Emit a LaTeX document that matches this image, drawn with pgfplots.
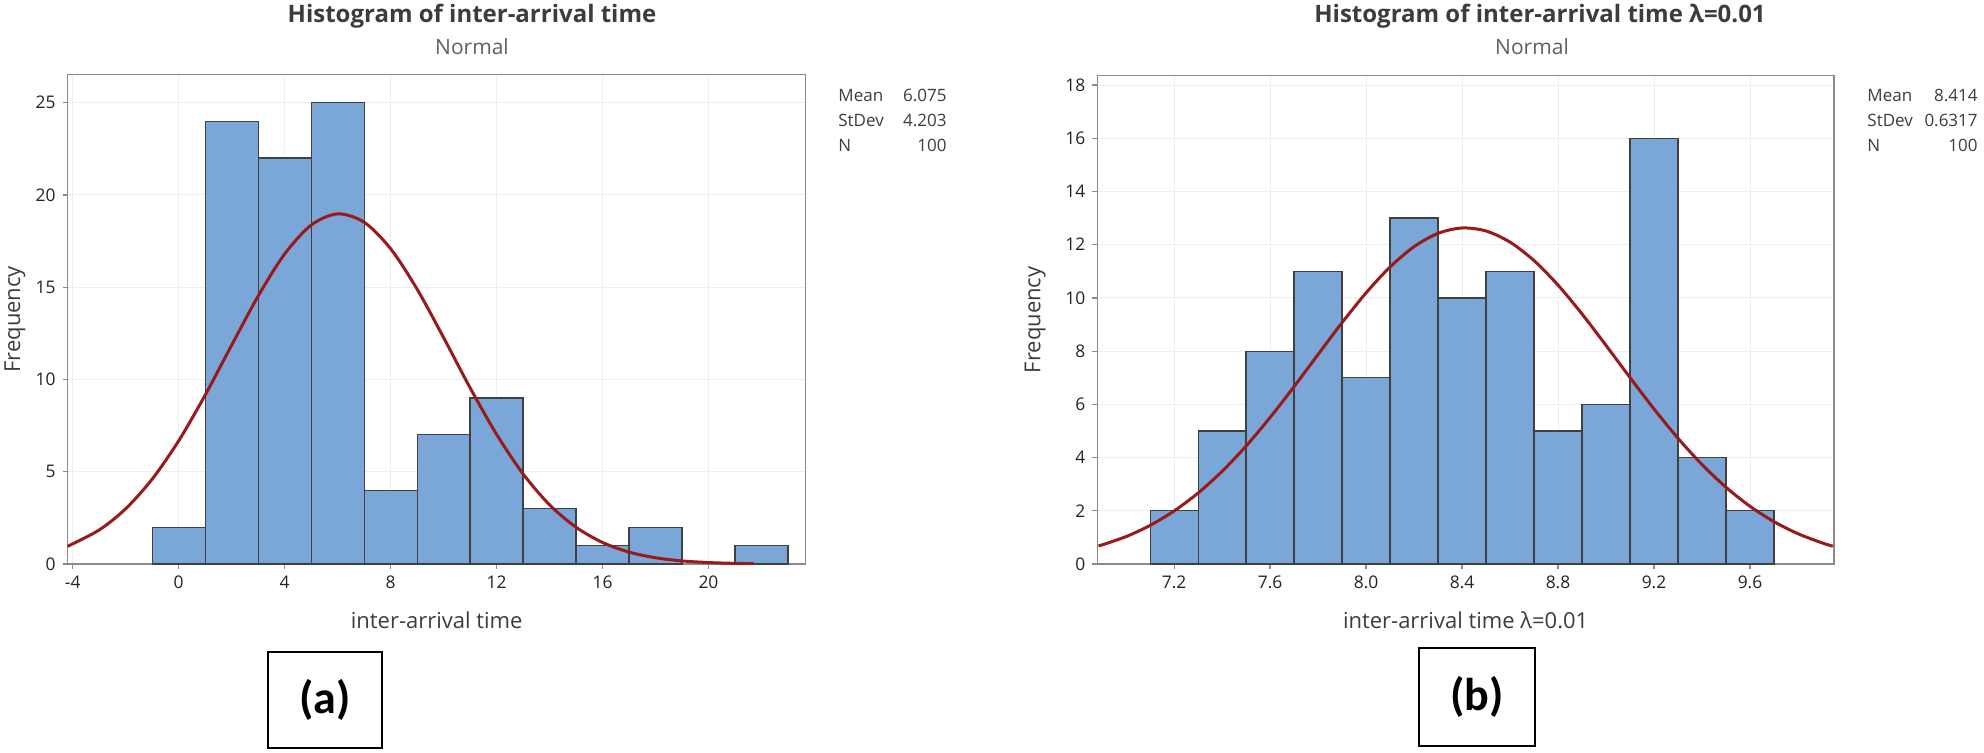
\documentclass[border=0pt]{standalone}
\usepackage{pgfplots}
\pgfplotsset{compat=1.18}
\usepackage{fontspec}
\setmainfont{Open Sans}
\newfontfamily\carlito{Carlito}
\definecolor{barblue}{RGB}{123,166,216}
\definecolor{baredge}{RGB}{64,64,64}
\definecolor{curvered}{RGB}{152,26,26}
\definecolor{framegray}{RGB}{138,138,138}
\definecolor{gridgray}{RGB}{238,238,238}
\definecolor{titlecol}{RGB}{60,60,60}
\definecolor{subcol}{RGB}{95,95,95}
\definecolor{tickcol}{RGB}{35,35,35}
\definecolor{labcol}{RGB}{60,60,60}
\pgfplotsset{
  histo/.style={
    scale only axis,
    axis line style={draw=framegray, line width=0.75pt},
    tick style={draw=framegray, line width=0.6pt},
    major tick length=2.5pt,
    tick align=outside,
    xtick pos=lower, ytick pos=lower,
    grid=major,
    major grid style={draw=gridgray, line width=0.5pt},
    tick label style={font=\fontsize{8.7}{10}\selectfont, text=tickcol},
    label style={font=\fontsize{11}{13}\selectfont, text=labcol},
    /pgf/number format/assume math mode=true,
    ymin=0,
  },
  bars/.style={ybar interval, fill=barblue, draw=baredge, line width=0.6pt},
  fitcurve/.style={curvered, line width=1.5pt, smooth, no marks},
}
\begin{document}
\begin{tikzpicture}
\useasboundingbox (0,0) rectangle (992pt,376pt);
% ---------------- (a) ----------------
\begin{axis}[histo,
  at={(33.85pt,94pt)}, anchor=south west,
  width=369pt, height=244.65pt,
  xmin=-4.19, xmax=23.67, ymax=26.52,
  xtick={-4,0,4,8,12,16,20}, ytick={0,5,10,15,20,25},
  xlabel={inter-arrival time},
  ylabel={Frequency},
  xlabel style={at={(axis description cs:0.5,-0.115)}, anchor=center},
  ylabel style={at={(axis description cs:-0.0714,0.5)}, anchor=center},
]
\addplot[bars] coordinates {(-1,2) (1,24) (3,22) (5,25) (7,4) (9,7) (11,9) (13,3) (15,1) (17,2) (19,2)};
\addplot[bars] coordinates {(21,1) (23,1)};
\addplot[fitcurve] coordinates {
(-4.2,0.957) (-3,1.845) (-2,2.997) (-1,4.603) (0,6.677) (1,9.156) (2,11.863)
(3,14.524) (4,16.803) (5,18.369) (6,18.977) (7,18.526) (8,17.090) (9,14.898)
(10,12.272) (11,9.553) (12,7.027) (13,4.885) (14,3.208) (15,1.991) (16,1.168)
(17,0.647) (18,0.339) (19,0.168) (20,0.079) (21,0.035) (21.7,0.019)};
\end{axis}
% ---------------- (b) ----------------
\begin{axis}[histo,
  at={(548.65pt,94pt)}, anchor=south west,
  width=368.35pt, height=244.15pt,
  xmin=6.88, xmax=9.95, ymax=18.35,
  xtick={7.2,7.6,8.0,8.4,8.8,9.2,9.6}, ytick={0,2,4,6,8,10,12,14,16,18},
  xticklabel style={/pgf/number format/.cd, fixed, fixed zerofill, precision=1},
  xlabel={inter-arrival time λ=0.01},
  ylabel={Frequency},
  xlabel style={at={(axis description cs:0.5,-0.115)}, anchor=center},
  ylabel style={at={(axis description cs:-0.0845,0.5)}, anchor=center},
]
\addplot[bars] coordinates {(7.1,2) (7.3,5) (7.5,8) (7.7,11) (7.9,7) (8.1,13) (8.3,10) (8.5,11) (8.7,5) (8.9,6) (9.1,16) (9.3,4) (9.5,2) (9.7,2)};
\addplot[fitcurve] coordinates {
(6.885,0.675) (7.0,1.031) (7.1,1.452) (7.2,1.993) (7.3,2.668) (7.4,3.483) (7.5,4.435)
(7.6,5.507) (7.7,6.668) (7.8,7.875) (7.9,9.071) (8.0,10.190) (8.1,11.163) (8.2,11.926)
(8.3,12.427) (8.4,12.628) (8.5,12.515) (8.6,12.095) (8.7,11.401) (8.8,10.480) (8.9,9.395)
(9.0,8.214) (9.1,7.004) (9.2,5.825) (9.3,4.724) (9.4,3.736) (9.5,2.882) (9.6,2.168)
(9.7,1.590) (9.8,1.138) (9.9,0.794) (9.945,0.670)};
\end{axis}
% ---------------- titles ----------------
\node[anchor=base, font=\bfseries\fontsize{12}{14}\selectfont, text=titlecol] at (236pt,364.7pt) {Histogram of inter-arrival time};
\node[anchor=base, font=\fontsize{10.5}{12}\selectfont, text=subcol] at (236pt,348.8pt) {Normal};
\node[anchor=base, font=\bfseries\fontsize{12}{14}\selectfont, text=titlecol] at (770pt,364.7pt) {Histogram of inter-arrival time λ=0.01};
\node[anchor=base, font=\fontsize{10.5}{12}\selectfont, text=subcol] at (766pt,348.8pt) {Normal};
% ---------------- stats ----------------
\begin{scope}[every node/.style={font=\fontsize{8.5}{10}\selectfont, text=labcol, inner sep=0pt}]
\node[anchor=base west] at (419pt,325.2pt) {Mean};
\node[anchor=base west] at (419pt,312.7pt) {StDev};
\node[anchor=base west] at (419pt,300.2pt) {N};
\node[anchor=base east] at (473.5pt,325.2pt) {6.075};
\node[anchor=base east] at (473.5pt,312.7pt) {4.203};
\node[anchor=base east] at (473.5pt,300.2pt) {100};
\node[anchor=base west] at (933.5pt,325.2pt) {Mean};
\node[anchor=base west] at (933.5pt,312.7pt) {StDev};
\node[anchor=base west] at (933.5pt,300.2pt) {N};
\node[anchor=base east] at (989pt,325.2pt) {8.414};
\node[anchor=base east] at (989pt,312.7pt) {0.6317};
\node[anchor=base east] at (989pt,300.2pt) {100};
\end{scope}
% ---------------- panel labels ----------------
\node[draw=black, line width=0.9pt, minimum width=57pt, minimum height=48pt, inner sep=0pt, font=\carlito\bfseries\fontsize{23}{26}\selectfont] at (162.5pt,26pt) {(a)};
\node[draw=black, line width=0.9pt, minimum width=58pt, minimum height=49pt, inner sep=0pt, font=\carlito\bfseries\fontsize{23}{26}\selectfont] at (738.5pt,27.5pt) {(b)};
\end{tikzpicture}
\end{document}
